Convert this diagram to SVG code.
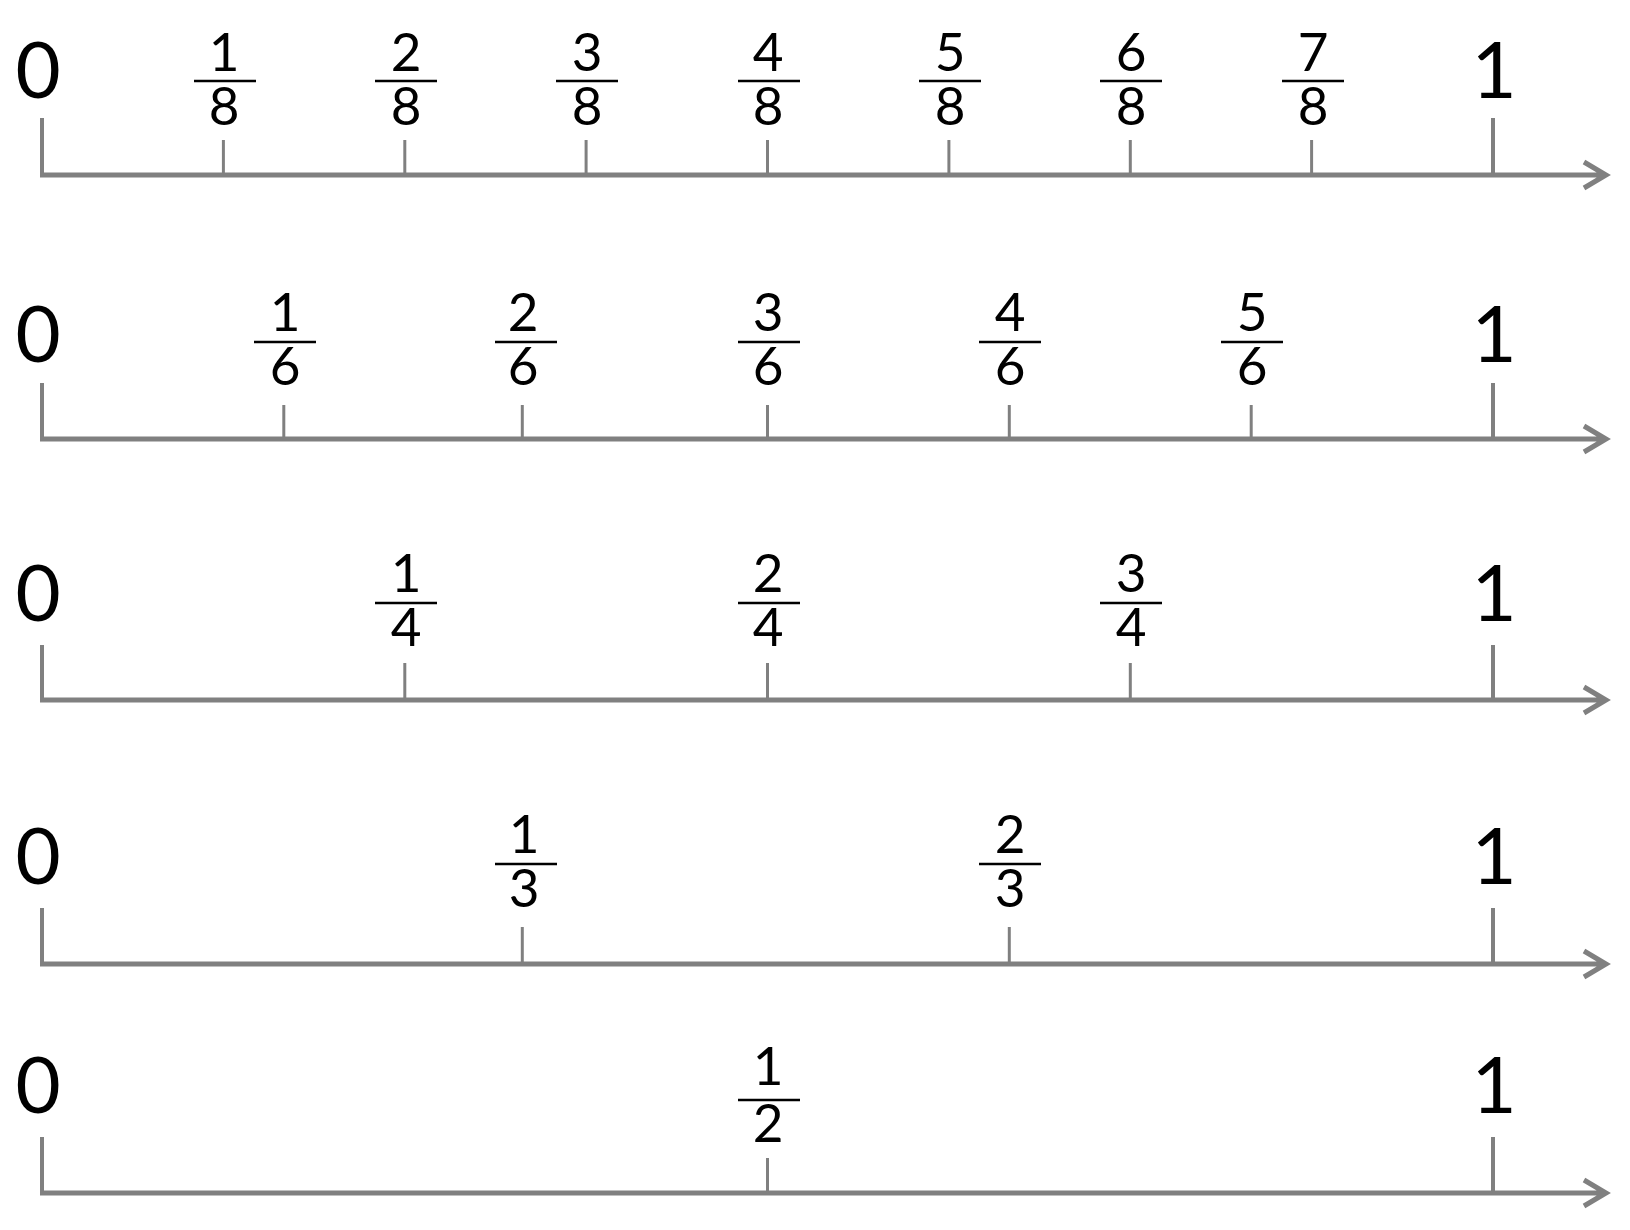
<svg xmlns="http://www.w3.org/2000/svg" width="1630" height="1230" viewBox="0 0 1630 1230">
<style>
.ax{stroke:#808080;stroke-width:5;fill:none}
.bt{stroke:#808080;stroke-width:4}
.st{stroke:#808080;stroke-width:3}
.bar{stroke:#000;stroke-width:2.5}
.big{font-family:Lato,"DejaVu Sans",sans-serif;font-size:78px;fill:#000;text-anchor:middle}
.fr{font-family:Lato,"DejaVu Sans",sans-serif;font-size:53px;fill:#000;text-anchor:middle}
</style>
<rect width="1630" height="1230" fill="#fff"/>
<g id="connectors">
<g id="axis-eighths"><path class="ax" d="M40 175H1606M1584 162L1606 175L1584 188"/><line class="bt" x1="42" y1="118" x2="42" y2="175"/><line class="bt" x1="1493" y1="118" x2="1493" y2="175"/>
<line class="st" x1="223.4" y1="140" x2="223.4" y2="175"/><line class="st" x1="404.8" y1="140" x2="404.8" y2="175"/><line class="st" x1="586.1" y1="140" x2="586.1" y2="175"/><line class="st" x1="767.5" y1="140" x2="767.5" y2="175"/><line class="st" x1="948.9" y1="140" x2="948.9" y2="175"/><line class="st" x1="1130.3" y1="140" x2="1130.3" y2="175"/><line class="st" x1="1311.6" y1="140" x2="1311.6" y2="175"/></g>
<g id="axis-sixths"><path class="ax" d="M40 439H1606M1584 426L1606 439L1584 452"/><line class="bt" x1="42" y1="383" x2="42" y2="439"/><line class="bt" x1="1493" y1="383" x2="1493" y2="439"/>
<line class="st" x1="283.8" y1="405" x2="283.8" y2="439"/><line class="st" x1="522.3" y1="405" x2="522.3" y2="439"/><line class="st" x1="767.5" y1="405" x2="767.5" y2="439"/><line class="st" x1="1009.3" y1="405" x2="1009.3" y2="439"/><line class="st" x1="1251.2" y1="405" x2="1251.2" y2="439"/></g>
<g id="axis-quarters"><path class="ax" d="M40 700H1606M1584 687L1606 700L1584 713"/><line class="bt" x1="42" y1="645" x2="42" y2="700"/><line class="bt" x1="1493" y1="645" x2="1493" y2="700"/>
<line class="st" x1="404.8" y1="663" x2="404.8" y2="700"/><line class="st" x1="767.5" y1="663" x2="767.5" y2="700"/><line class="st" x1="1130.3" y1="663" x2="1130.3" y2="700"/></g>
<g id="axis-thirds"><path class="ax" d="M40 964H1606M1584 951L1606 964L1584 977"/><line class="bt" x1="42" y1="908" x2="42" y2="964"/><line class="bt" x1="1493" y1="908" x2="1493" y2="964"/>
<line class="st" x1="522.3" y1="927" x2="522.3" y2="964"/><line class="st" x1="1009.3" y1="927" x2="1009.3" y2="964"/></g>
<g id="axis-halves"><path class="ax" d="M40 1193H1606M1584 1180L1606 1193L1584 1206"/><line class="bt" x1="42" y1="1137" x2="42" y2="1193"/><line class="bt" x1="1493" y1="1137" x2="1493" y2="1193"/>
<line class="st" x1="767.5" y1="1158" x2="767.5" y2="1193"/></g>
</g>
<g id="row-eighths">
<text class="big" x="38" y="98">0</text><text class="big" x="1494" y="98">1</text>
<g id="f1-8"><text class="fr" x="224" y="71">1</text><line class="bar" x1="194" y1="81" x2="256" y2="81"/><text class="fr" x="224" y="125">8</text></g>
<g id="f2-8"><text class="fr" x="406" y="71">2</text><line class="bar" x1="375" y1="81" x2="437" y2="81"/><text class="fr" x="406" y="125">8</text></g>
<g id="f3-8"><text class="fr" x="587" y="71">3</text><line class="bar" x1="556" y1="81" x2="618" y2="81"/><text class="fr" x="587" y="125">8</text></g>
<g id="f4-8"><text class="fr" x="768" y="71">4</text><line class="bar" x1="738" y1="81" x2="800" y2="81"/><text class="fr" x="768" y="125">8</text></g>
<g id="f5-8"><text class="fr" x="950" y="71">5</text><line class="bar" x1="919" y1="81" x2="981" y2="81"/><text class="fr" x="950" y="125">8</text></g>
<g id="f6-8"><text class="fr" x="1131" y="71">6</text><line class="bar" x1="1100" y1="81" x2="1162" y2="81"/><text class="fr" x="1131" y="125">8</text></g>
<g id="f7-8"><text class="fr" x="1313" y="71">7</text><line class="bar" x1="1282" y1="81" x2="1344" y2="81"/><text class="fr" x="1313" y="125">8</text></g>
</g>
<g id="row-sixths">
<text class="big" x="38" y="362">0</text><text class="big" x="1494" y="362">1</text>
<g id="f1-6"><text class="fr" x="285" y="331">1</text><line class="bar" x1="254" y1="342" x2="316" y2="342"/><text class="fr" x="285" y="385">6</text></g>
<g id="f2-6"><text class="fr" x="523" y="331">2</text><line class="bar" x1="495" y1="342" x2="557" y2="342"/><text class="fr" x="523" y="385">6</text></g>
<g id="f3-6"><text class="fr" x="768" y="331">3</text><line class="bar" x1="738" y1="342" x2="800" y2="342"/><text class="fr" x="768" y="385">6</text></g>
<g id="f4-6"><text class="fr" x="1010" y="331">4</text><line class="bar" x1="979" y1="342" x2="1041" y2="342"/><text class="fr" x="1010" y="385">6</text></g>
<g id="f5-6"><text class="fr" x="1252" y="331">5</text><line class="bar" x1="1221" y1="342" x2="1283" y2="342"/><text class="fr" x="1252" y="385">6</text></g>
</g>
<g id="row-quarters">
<text class="big" x="38" y="621">0</text><text class="big" x="1494" y="621">1</text>
<g id="f1-4"><text class="fr" x="406" y="592">1</text><line class="bar" x1="375" y1="603" x2="437" y2="603"/><text class="fr" x="406" y="646">4</text></g>
<g id="f2-4"><text class="fr" x="768" y="592">2</text><line class="bar" x1="738" y1="603" x2="800" y2="603"/><text class="fr" x="768" y="646">4</text></g>
<g id="f3-4"><text class="fr" x="1131" y="592">3</text><line class="bar" x1="1100" y1="603" x2="1162" y2="603"/><text class="fr" x="1131" y="646">4</text></g>
</g>
<g id="row-thirds">
<text class="big" x="38" y="884">0</text><text class="big" x="1494" y="884">1</text>
<g id="f1-3"><text class="fr" x="524" y="853">1</text><line class="bar" x1="495" y1="864" x2="557" y2="864"/><text class="fr" x="524" y="907">3</text></g>
<g id="f2-3"><text class="fr" x="1010" y="853">2</text><line class="bar" x1="979" y1="864" x2="1041" y2="864"/><text class="fr" x="1010" y="907">3</text></g>
</g>
<g id="row-halves">
<text class="big" x="38" y="1113">0</text><text class="big" x="1494" y="1113">1</text>
<g id="f1-2"><text class="fr" x="768" y="1085">1</text><line class="bar" x1="738" y1="1100" x2="800" y2="1100"/><text class="fr" x="768" y="1142">2</text></g>
</g>
</svg>
